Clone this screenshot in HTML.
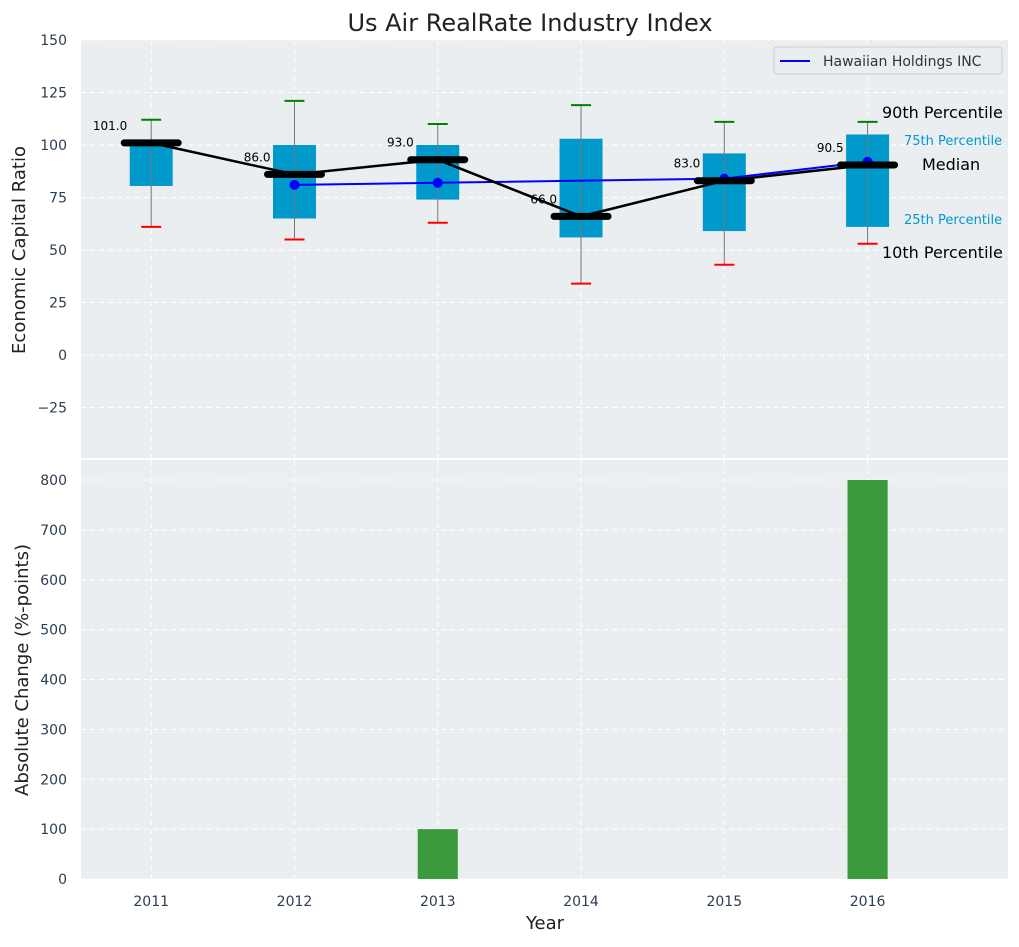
<!DOCTYPE html>
<html><head><meta charset="utf-8"><style>
body{margin:0;background:#fff;font-family:"Liberation Sans","DejaVu Sans",sans-serif;}
svg text{font-family:"DejaVu Sans","Liberation Sans",sans-serif;}
</style></head><body>
<svg id="c" width="1019" height="942" xmlns="http://www.w3.org/2000/svg"></svg>
<script>
const years=[2011,2012,2013,2014,2015,2016];
const q1=[80.5,65,74,56,59,61];
const q3=[101,100,100,103,96,105];
const p10=[61,55,63,34,43,53];
const p90=[112,121,110,119,111,111];
const medians=[101,86,93,66,83,90.5];
const compYears=[2012,2013,2015,2016];
const compVals=[81,82,84,92];
const barVals=[0,0,100,0,0,800];
const topTicks=[-25,0,25,50,75,100,125,150];
const botTicks=[0,100,200,300,400,500,600,700,800];

const S=document.getElementById('c');const NS='http://www.w3.org/2000/svg';
function el(t,a,txt){const e=document.createElementNS(NS,t);for(const k in a)e.setAttribute(k,a[k]);if(txt!==undefined)e.textContent=txt;S.appendChild(e);return e;}
const L=81,R=1008,T1=40,B1=458,T2=460,B2=879;
const x=v=>L+(v-2010.51)/(2016.98-2010.51)*(R-L);
const y1=v=>355-v*2.1;
const y2=v=>B2-v*(B2-480)/800;
let e;
e=el('rect',{x:L,y:T1,width:R-L,height:B1-T1,fill:'#eaeef0'});

e=el('rect',{x:L,y:T2,width:R-L,height:B2-T2,fill:'#eaeef0'});

// grids
topTicks.forEach(t=>{el('line',{x1:L,x2:R,y1:y1(t),y2:y1(t),stroke:'#fff','stroke-dasharray':'5,4','stroke-width':1});
 e=el('text',{x:L-14,y:y1(t)+5,'text-anchor':'end','font-size':14,fill:'#2c3e50'},t<0?'\u2212'+(-t):t);
 });
botTicks.forEach(t=>{el('line',{x1:L,x2:R,y1:y2(t),y2:y2(t),stroke:'#fff','stroke-dasharray':'5,4','stroke-width':1});
 e=el('text',{x:L-14,y:y2(t)+5,'text-anchor':'end','font-size':14,fill:'#2c3e50'},t);
 });
years.forEach(yr=>{[[T1,B1],[T2,B2]].forEach(([a,b])=>el('line',{x1:x(yr),x2:x(yr),y1:a,y2:b,stroke:'#fff','stroke-dasharray':'5,4'}));
 e=el('text',{x:x(yr),y:906,'text-anchor':'middle','font-size':14,fill:'#2c3e50'},yr);
 });
// boxes
const bw=(x(2011.15)-x(2010.85));
years.forEach((yr,i)=>{const cx=x(yr);
 e=el('rect',{x:cx-bw/2,y:y1(q3[i]),width:bw,height:y1(q1[i])-y1(q3[i]),fill:'#0099cc'});
 
 el('line',{x1:cx,x2:cx,y1:y1(p90[i]),y2:y1(p10[i]),stroke:'#777','stroke-width':1});
 el('line',{x1:cx-10,x2:cx+10,y1:y1(p90[i]),y2:y1(p90[i]),stroke:'green','stroke-width':2});
 el('line',{x1:cx-10,x2:cx+10,y1:y1(p10[i]),y2:y1(p10[i]),stroke:'red','stroke-width':2});
});
// comparison line
e=el('polyline',{points:compYears.map((yr,i)=>x(yr)+','+y1(compVals[i])).join(' '),fill:'none',stroke:'blue','stroke-width':2});

compYears.forEach((yr,i)=>{e=el('circle',{cx:x(yr),cy:y1(compVals[i]),r:5,fill:'blue'});
 });
// median line
e=el('polyline',{points:years.map((yr,i)=>x(yr)+','+y1(medians[i])).join(' '),fill:'none',stroke:'#000','stroke-width':2.5});

years.forEach((yr,i)=>{const cx=x(yr);
 e=el('line',{x1:cx-27,x2:cx+27,y1:y1(medians[i]),y2:y1(medians[i]),stroke:'#000','stroke-width':7,'stroke-linecap':'round'});
 
 e=el('text',{x:cx-24,y:y1(medians[i])-13,'text-anchor':'end','font-size':12,fill:'#000'},medians[i].toFixed(1));
 });
// annotations
const ann=[['90th Percentile',882,118,16,'#000'],['75th Percentile',904,145,13,'#0099cc'],['Median',922,170,16,'#000'],['25th Percentile',904,224,13,'#0099cc'],['10th Percentile',882,258,16,'#000']];
ann.forEach(a=>{e=el('text',{x:a[1],y:a[2],'font-size':a[3],fill:a[4]},a[0]);});
// bars
const barW=x(2011.14)-x(2010.86);
years.forEach((yr,i)=>{if(!barVals[i])return;e=el('rect',{x:x(yr)-barW/2,y:y2(barVals[i]),width:barW,height:B2-y2(barVals[i]),fill:'#3a9a3c'});
 });
// legend
e=el('rect',{x:774,y:47,width:228,height:27,rx:3,fill:'#eaeef0',stroke:'#ccc'});
el('line',{x1:780,x2:810,y1:61,y2:61,stroke:'blue','stroke-width':2});
e=el('text',{x:823,y:66,'font-size':14,fill:'#333'},'Hawaiian Holdings INC');
// titles
e=el('text',{x:530,y:31,'text-anchor':'middle','font-size':24,fill:'#222'},'Us Air RealRate Industry Index');
e=el('text',{x:545,y:929,'text-anchor':'middle','font-size':18,fill:'#222'},'Year');
e=el('text',{transform:'translate(25,250) rotate(-90)','text-anchor':'middle','font-size':18,fill:'#222'},'Economic Capital Ratio');
e=el('text',{transform:'translate(28,670) rotate(-90)','text-anchor':'middle','font-size':18,fill:'#222'},'Absolute Change (%-points)');
</script>
</body></html>
